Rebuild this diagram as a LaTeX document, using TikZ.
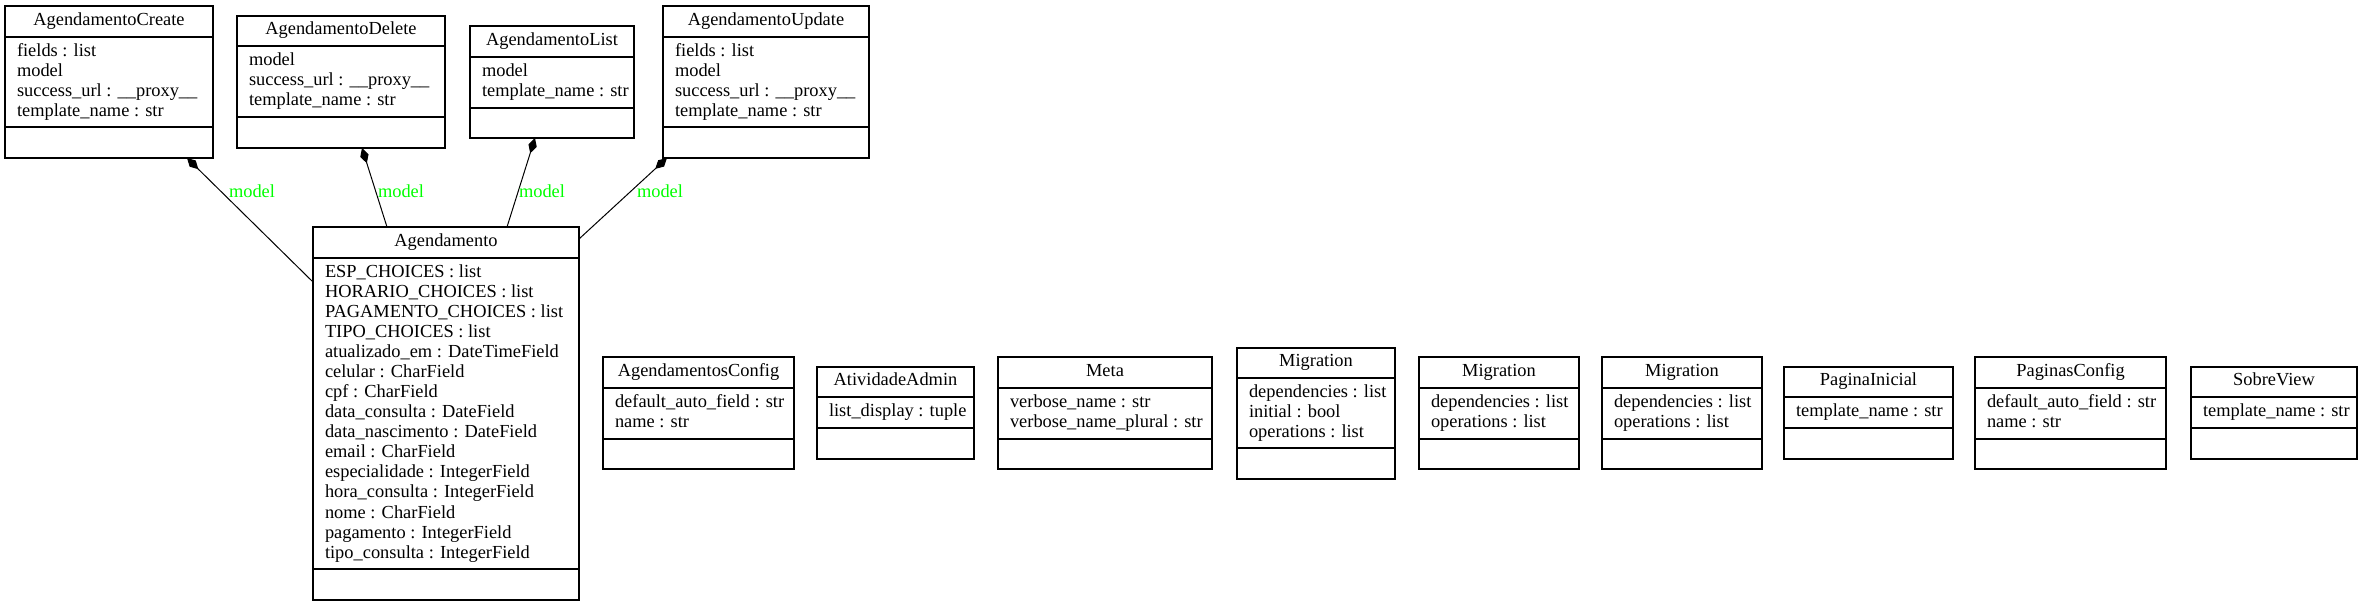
\documentclass[tikz,border=0pt]{standalone}
\usepackage{fontspec}
\setmainfont{Liberation Serif}
\usetikzlibrary{arrows.meta,fit,calc}
\definecolor{lblgreen}{RGB}{0,255,0}
\tikzset{
  x=0.75pt, y=-0.75pt,
  every node/.style={font=\fontsize{13.8}{15}\selectfont, inner sep=0pt, outer sep=0pt},
  classbox/.style={draw, line width=0.85pt, inner sep=0pt},
  sepline/.style={line width=0.85pt},
  clstitle/.style={anchor=base},
  clsattr/.style={anchor=base west},
  compo/.style={{Diamond[length=12pt,width=6.5pt]}-, line width=0.75pt},
  lbl/.style={text=lblgreen, anchor=base},
}
% #1 name, #2 left, #3 top, #4 right, #5 title sep, #6 attr sep, #7 bottom, #8 title, #9 attributes
\newcommand\umlcls[9]{%
  \node[classbox, fit={(#2,#3) (#4,#7)}] (#1) {};
  \draw[sepline] (#2,#5) -- (#4,#5);
  \draw[sepline] (#2,#6) -- (#4,#6);
  \node[clstitle] (#1-t) at ({(#2+#4)/2},{#5-11}) {#8};
  \foreach \clsline [count=\i] in {#9} {\node[clsattr] (#1-a\i) at ({#2+12},{#5+20*\i}) {\clsline};}%
}
\begin{document}
\begin{tikzpicture}
\fill[white] (0,0) rectangle (2362,605);
\useasboundingbox (0,0) rectangle (2362,605);

\umlcls{create}{5}{6}{213}{37}{127}{158}{AgendamentoCreate}{fields : list, model, success\_url : \_\_proxy\_\_, template\_name : str}
\umlcls{delete}{237}{16}{445}{46}{117}{148}{AgendamentoDelete}{model, success\_url : \_\_proxy\_\_, template\_name : str}
\umlcls{list}{470}{26}{634}{57}{108}{138}{AgendamentoList}{model, template\_name : str}
\umlcls{update}{663}{6}{869}{37}{127}{158}{AgendamentoUpdate}{fields : list, model, success\_url : \_\_proxy\_\_, template\_name : str}
\umlcls{agend}{313}{227}{579}{258}{569}{600}{Agendamento}{ESP\_CHOICES : list, HORARIO\_CHOICES : list, PAGAMENTO\_CHOICES : list, TIPO\_CHOICES : list, atualizado\_em : DateTimeField, celular : CharField, cpf : CharField, data\_consulta : DateField, data\_nascimento : DateField, email : CharField, especialidade : IntegerField, hora\_consulta : IntegerField, nome : CharField, pagamento : IntegerField, tipo\_consulta : IntegerField}

\umlcls{agconfig}{603}{357}{794}{388}{439}{469}{AgendamentosConfig}{default\_auto\_field : str, name : str}
\umlcls{ativadmin}{817}{367}{974}{397}{428}{459}{AtividadeAdmin}{list\_display : tuple}
\umlcls{meta}{998}{357}{1212}{388}{439}{469}{Meta}{verbose\_name : str, verbose\_name\_plural : str}
\umlcls{mig1}{1237}{348}{1395}{378}{448}{479}{Migration}{dependencies : list, initial : bool, operations : list}
\umlcls{mig2}{1419}{357}{1579}{388}{439}{469}{Migration}{dependencies : list, operations : list}
\umlcls{mig3}{1602}{357}{1762}{388}{439}{469}{Migration}{dependencies : list, operations : list}
\umlcls{paginicial}{1784}{367}{1953}{397}{428}{459}{PaginaInicial}{template\_name : str}
\umlcls{pagconfig}{1975}{357}{2166}{388}{439}{469}{PaginasConfig}{default\_auto\_field : str, name : str}
\umlcls{sobre}{2191}{367}{2357}{397}{428}{459}{SobreView}{template\_name : str}

\draw[compo] ($(create.south west)+(182,0)$) -- ($(agend.north west)+(0,55)$);
\draw[compo] ($(delete.south west)+(125,0)$) -- ($(agend.north west)+(74,0)$);
\draw[compo] ($(list.south west)+(65,0)$) -- ($(agend.north west)+(194,0)$);
\draw[compo] ($(update.south west)+(4,0)$) -- ($(agend.north east)+(0,12)$);

\node[lbl] (l1) at (252,198) {model};
\node[lbl] (l2) at (401,198) {model};
\node[lbl] (l3) at (542,198) {model};
\node[lbl] (l4) at (660,198) {model};
\end{tikzpicture}
\end{document}
